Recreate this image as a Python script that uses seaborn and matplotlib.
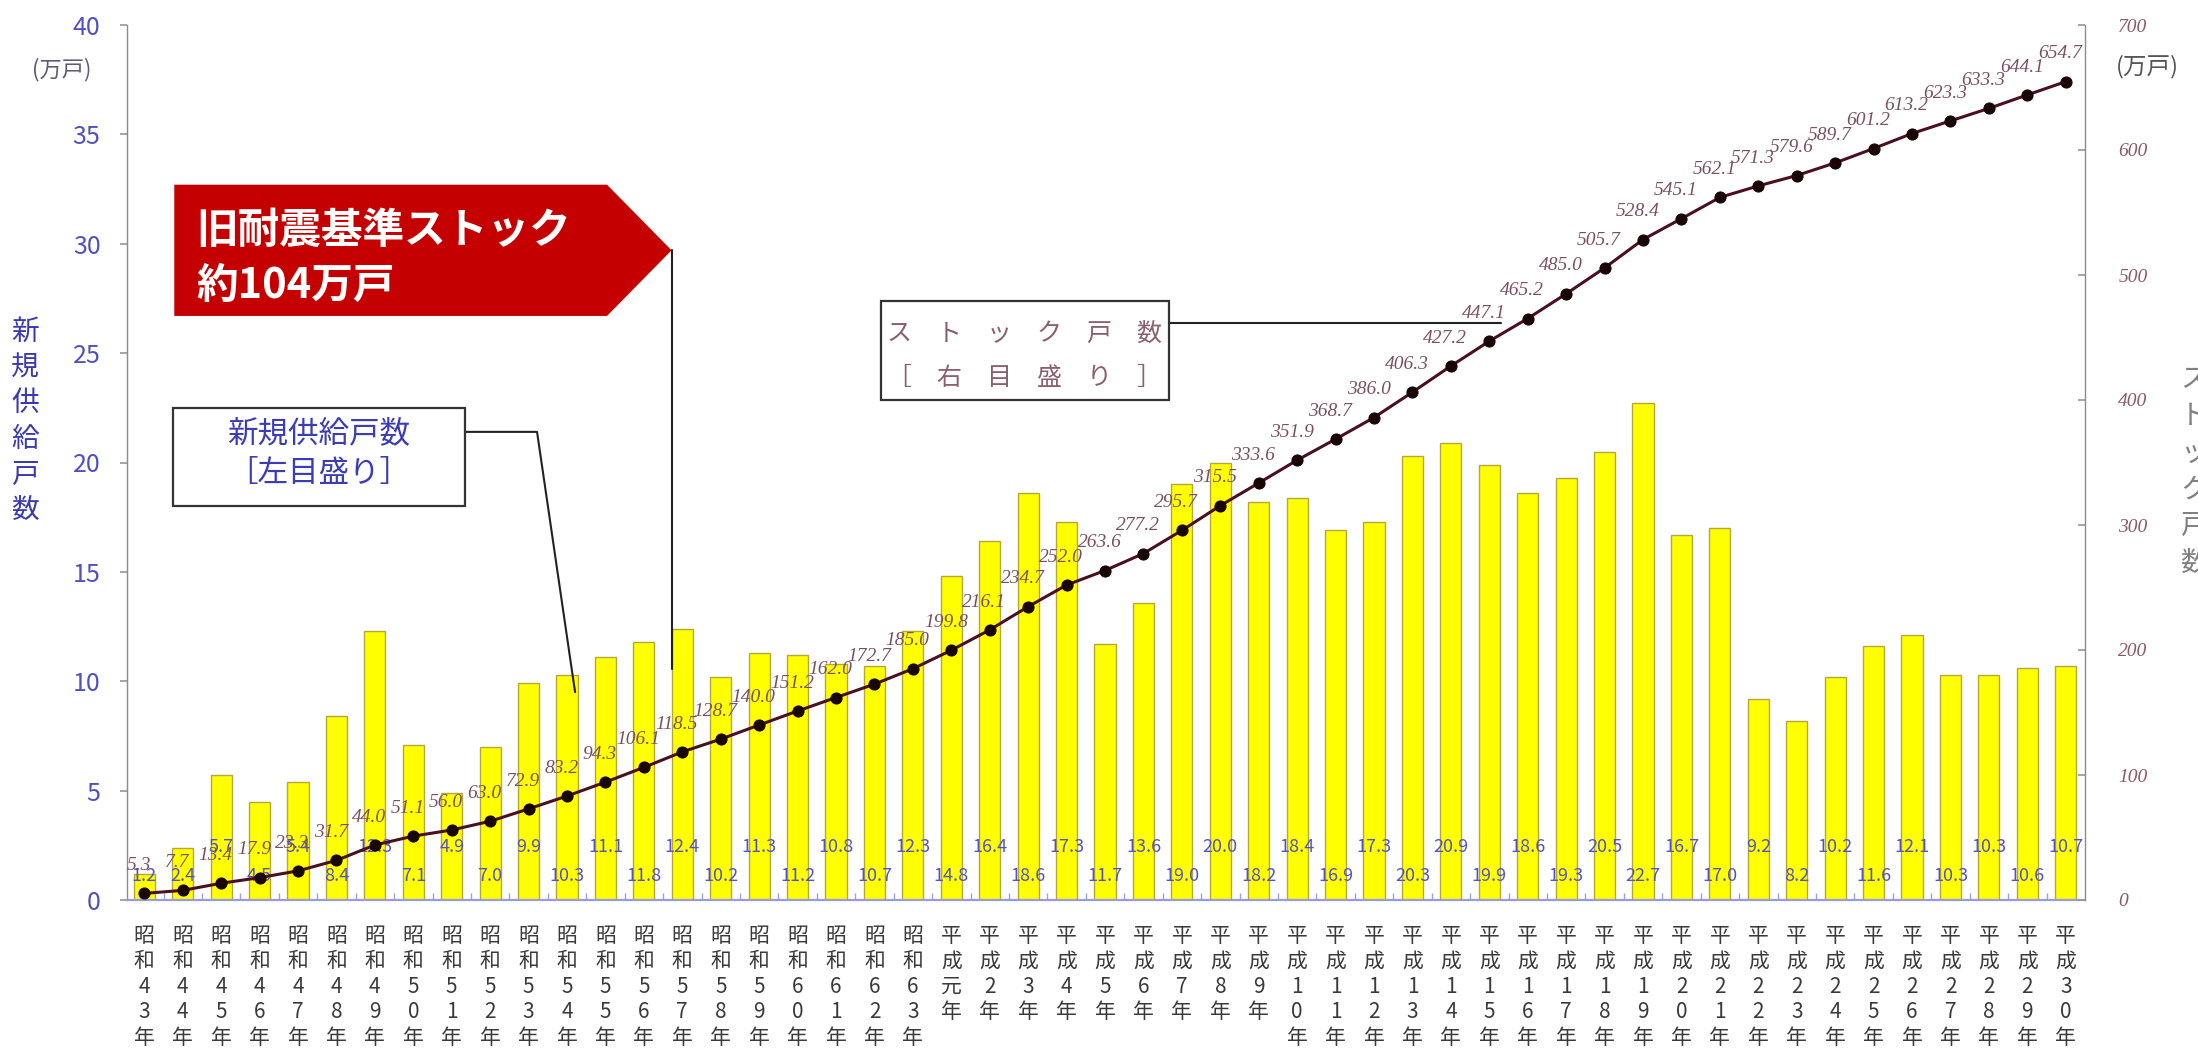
import numpy as np
import pandas as pd
import matplotlib
matplotlib.use("Agg")
import matplotlib.pyplot as plt
import seaborn as sns
from matplotlib.patches import Polygon, Rectangle

# ---- data -------------------------------------------------------------
years = (["昭和%d年" % y for y in range(43, 64)]
         + ["平成元年"] + ["平成%d年" % y for y in range(2, 31)])

# new supply per year (万戸, left axis)
supply = [1.2, 2.4, 5.7, 4.5, 5.4, 8.4, 12.3, 7.1, 4.9, 7.0,
          9.9, 10.3, 11.1, 11.8, 12.4, 10.2, 11.3, 11.2, 10.8, 10.7,
          12.3, 14.8, 16.4, 18.6, 17.3, 11.7, 13.6, 19.0, 20.0, 18.2,
          18.4, 16.9, 17.3, 20.3, 20.9, 19.9, 18.6, 19.3, 20.5, 22.7,
          16.7, 17.0, 9.2, 8.2, 10.2, 11.6, 12.1, 10.3, 10.3, 10.6,
          10.7]

# cumulative stock (万戸, right axis)
stock = [5.3, 7.7, 13.4, 17.9, 23.3, 31.7, 44.0, 51.1, 56.0, 63.0,
         72.9, 83.2, 94.3, 106.1, 118.5, 128.7, 140.0, 151.2, 162.0, 172.7,
         185.0, 199.8, 216.1, 234.7, 252.0, 263.6, 277.2, 295.7, 315.5, 333.6,
         351.9, 368.7, 386.0, 406.3, 427.2, 447.1, 465.2, 485.0, 505.7, 528.4,
         545.1, 562.1, 571.3, 579.6, 589.7, 601.2, 613.2, 623.3, 633.3, 644.1,
         654.7]

left_ticks = list(range(0, 41, 5))
right_ticks = list(range(0, 701, 100))

# ---- style ------------------------------------------------------------
sns.set_theme(style="white")
plt.rcParams["font.family"] = ["Noto Sans CJK JP", "DejaVu Sans"]

W, H = 2198, 1064
fig = plt.figure(figsize=(W / 100, H / 100), dpi=100)
ax = fig.add_axes([127 / W, 1 - 900 / H, (2085 - 127) / W, (900 - 25) / H])

n = len(years)
df = pd.DataFrame({"year": years, "supply": supply, "stock": stock,
                   "pos": np.arange(n)})

sns.barplot(data=df, x="year", y="supply", order=years, color="#ffff00",
            saturation=1, width=0.55, edgecolor="#b4a83c", linewidth=1.0,
            ax=ax)

ax2 = ax.twinx()
sns.lineplot(data=df, x="pos", y="stock", ax=ax2, color="#4a1020",
             linewidth=2.2, marker="o", markersize=8,
             markerfacecolor="#1a0505", markeredgecolor="#1a0505")

ax.set_xlim(-0.45, 50.5)
ax.set_ylim(0, 40)
ax2.set_ylim(0, 700)
for a in (ax, ax2):
    a.set_xlabel("")
    a.set_ylabel("")

# spines
for s in ("top", "right"):
    ax.spines[s].set_visible(False)
ax.spines["left"].set_color("#8c8c8c")
ax.spines["left"].set_linewidth(1.0)
ax.spines["bottom"].set_color("#9a9ae0")
ax.spines["bottom"].set_linewidth(1.6)
for s in ("top", "left", "bottom"):
    ax2.spines[s].set_visible(False)
ax2.spines["right"].set_color("#8c8c8c")
ax2.spines["right"].set_linewidth(1.0)

# left axis ticks
ax.set_yticks(left_ticks)
ax.set_yticklabels([str(t) for t in left_ticks], fontsize=18,
                   color="#5050c0")
ax.tick_params(axis="y", left=True, direction="out", length=5,
               color="#9a9a9a", pad=14)

# right axis ticks
ax2.set_yticks(right_ticks)
ax2.set_yticklabels([str(t) for t in right_ticks], fontsize=14,
                    color="#8a5a6a", fontstyle="italic",
                    family="Liberation Serif")
ax2.tick_params(axis="y", right=True, direction="in", length=5,
                color="#9a9a9a", pad=24)

# x tick labels written top-to-bottom
ax.set_xticks(range(n))
ax.set_xticklabels(["\n".join(y) for y in years], fontsize=15,
                   linespacing=1.2, color="#3a3a3a", va="top")
ax.tick_params(axis="x", which="major", bottom=False, pad=12)
ax.set_xticks(np.arange(n - 1) + 0.5, minor=True)
ax.tick_params(axis="x", which="minor", bottom=True, direction="in",
               length=5, color="#a0a0d8")

# supply values under the bars, two staggered rows
for i, v in enumerate(supply):
    yv = 2.4 if (i % 2 == 0 and i > 0) else 1.1
    ax.text(i, yv, f"{v:.1f}", ha="center", va="center", fontsize=13,
            color="#5454c0", zorder=6)

# stock values above the markers
for i, s in enumerate(stock):
    ax2.annotate(f"{s:.1f}", (i, s), xytext=(-4, 20),
                 textcoords="offset points", ha="center", va="center",
                 fontsize=14, fontstyle="italic", family="Liberation Serif",
                 color="#7a5060")

# units
fig.text(62 / W, 1 - 70 / H, "(万戸)", fontsize=16, color="#5a5a7a",
         ha="center", va="center")
fig.text(2147 / W, 1 - 67 / H, "(万戸)", fontsize=17, color="#555555",
         ha="center", va="center")

# vertical axis titles
fig.text(25 / W, 1 - 421 / H, "\n".join("新規供給戸数"), fontsize=20,
         color="#3a3ab0", ha="center", va="center", linespacing=1.25)
fig.text(2194 / W, 1 - 471 / H, "\n".join("ストック戸数"), fontsize=20,
         color="#808080", ha="center", va="center", linespacing=1.3)

# red callout for pre-1981 seismic standard stock
callout = Polygon([(0.78, 32.7), (12.04, 32.7), (13.72, 29.7),
                   (12.04, 26.7), (0.78, 26.7)], closed=True,
                  facecolor="#c40000", edgecolor="none", zorder=5)
ax.add_patch(callout)
ax.text(1.35, 30.6, "旧耐震基準ストック", fontsize=30, fontweight="bold",
        color="white", ha="left", va="center", zorder=6)
ax.text(1.35, 28.1, "約104万戸", fontsize=30, fontweight="bold",
        color="white", ha="left", va="center", zorder=6)
ax.plot([13.72, 13.72], [29.7, 10.55], color="#222222", lw=1.5, zorder=4)

# legend box: new supply
ax.add_patch(Rectangle((0.75, 18.03), 7.6, 4.45, facecolor="white",
                       edgecolor="#333333", lw=1.6, zorder=5))
ax.text(4.54, 21.33, "新規供給戸数", fontsize=22, color="#3c3cb4",
        ha="center", va="center", zorder=6)
ax.text(4.54, 19.5, "［左目盛り］", fontsize=22, color="#3c3cb4",
        ha="center", va="center", zorder=6)
ax.plot([8.35, 10.22, 11.21], [21.4, 21.4, 9.5], color="#222222", lw=1.5,
        zorder=4)

# legend box: stock
ax.add_patch(Rectangle((19.17, 22.84), 7.49, 4.56, facecolor="white",
                       edgecolor="#333333", lw=1.6, zorder=5))
ax.text(22.9, 25.9, "ス　ト　ッ　ク　戸　数", fontsize=18, color="#8a6070",
        ha="center", va="center", zorder=6)
ax.text(22.9, 23.85, "［　右　目　盛　り　］", fontsize=18, color="#8a6070",
        ha="center", va="center", zorder=6)
ax.plot([26.66, 35.3], [26.38, 26.38], color="#222222", lw=1.5, zorder=4)

fig.savefig("out.png", dpi=100, facecolor="white")
